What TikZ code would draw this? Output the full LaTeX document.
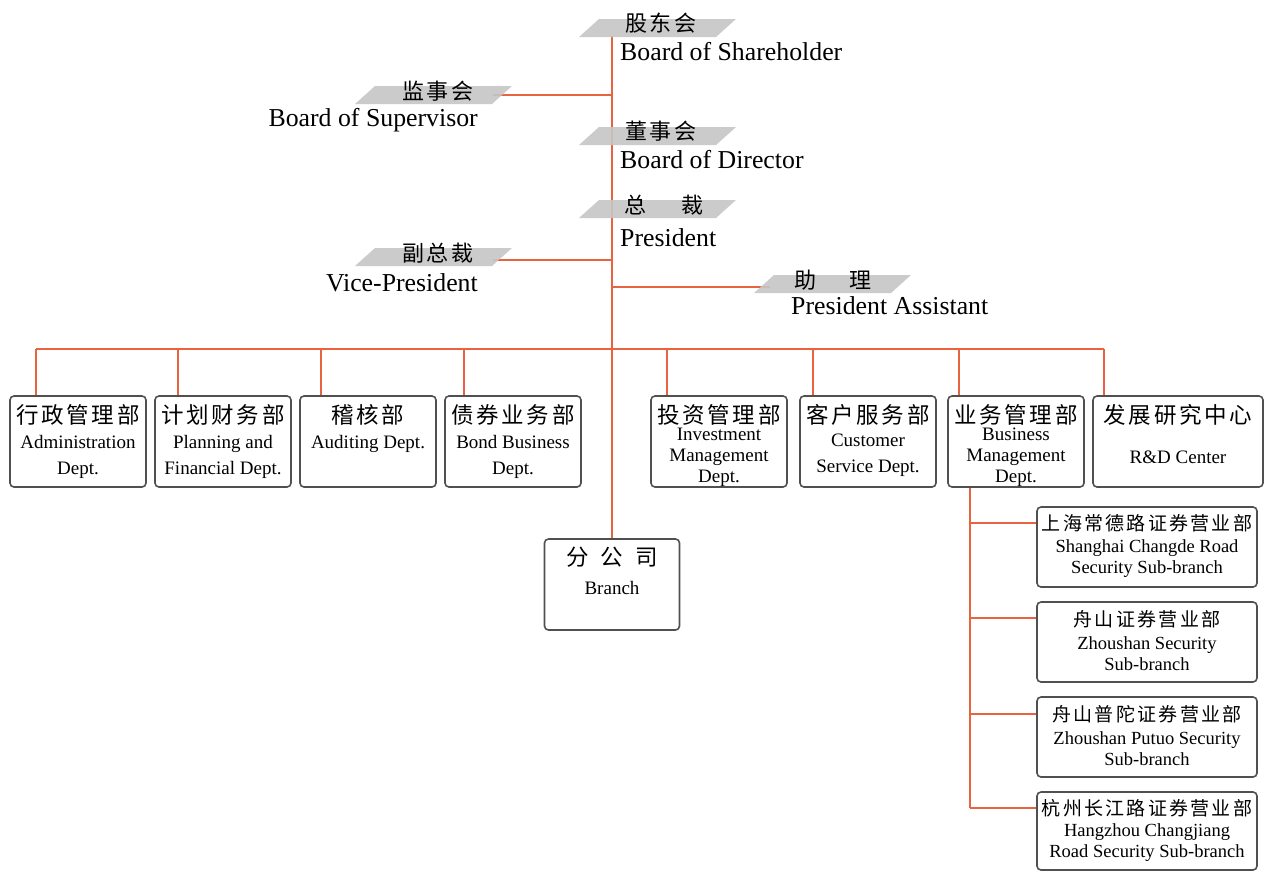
\documentclass[tikz,border=0pt]{standalone}
\usepackage{fontspec}
\setmainfont{Liberation Serif}
\newfontfamily\cjk[LetterSpace=12]{Noto Sans CJK SC}
\definecolor{ln}{RGB}{232,100,64}
\definecolor{pg}{RGB}{198,198,198}
\definecolor{bx}{RGB}{80,80,80}
\begin{document}
\begin{tikzpicture}[x=1pt,y=-1pt,
  conn/.style={draw=ln,line width=2.3pt},
  box/.style={draw=bx,line width=1.6pt,rounded corners=4pt,fill=white,inner sep=0pt},
  dept/.style={box,minimum width=136pt,minimum height=91pt},
  sub/.style={box,minimum width=220pt,minimum height=80pt},
  enl/.style={font=\fontsize{25.8}{28}\selectfont,inner sep=0pt},
  cnt/.style={font=\cjk\fontsize{22}{24}\selectfont,inner sep=0pt},
  cnd/.style={font=\cjk\fontsize{22.5}{24}\selectfont,inner sep=0pt},
  ent/.style={font=\fontsize{19}{26}\selectfont,align=center,inner sep=0pt},
  ent3/.style={font=\fontsize{19}{21}\selectfont,align=center,inner sep=0pt},
  ens/.style={font=\fontsize{18.5}{21}\selectfont,align=center,inner sep=0pt},
  cns/.style={font=\cjk\fontsize{19}{22}\selectfont,inner sep=0pt}]
\useasboundingbox[fill=white] (0,0) rectangle (1264,871);
\newcommand\mypgm[3]{\fill[pg,fill opacity=0.9] (#2-78,#3+9) -- (#2+59,#3+9) -- (#2+79,#3-9) -- (#2-58,#3-9) -- cycle; \coordinate (#1) at (#2,#3);}

% boxes
\node[dept] (adm) at (78,441.5) {};
\node[dept] (pln) at (223,441.5) {};
\node[dept] (aud) at (368,441.5) {};
\node[dept] (bnd) at (513,441.5) {};
\node[dept] (inv) at (719,441.5) {};
\node[dept] (cus) at (868,441.5) {};
\node[dept] (bsm) at (1016,441.5) {};
\node[dept,minimum width=170pt] (rnd) at (1178,441.5) {};
\node[box,minimum width=135pt,minimum height=91pt] (brc) at (612,584.5) {};
\node[sub] (s1) at (1147,547) {};
\node[sub] (s2) at (1147,642) {};
\node[sub] (s3) at (1147,737) {};
\node[sub,minimum height=78pt] (s4) at (1147,831) {};

% main line and bus
\coordinate (top) at (612,36);
\draw[conn] (top) -- (brc.north);
\coordinate (busL) at (36,349);
\coordinate (busR) at (1104,349);
\draw[conn] (busL) -- (busR);
\draw[conn] (adm.north -| busL) -- (busL);
\draw[conn] ([xshift=24pt]pln.north west) -- ++(0,-47);
\draw[conn] ([xshift=22pt]aud.north west) -- ++(0,-47);
\draw[conn] ([xshift=20pt]bnd.north west) -- ++(0,-47);
\draw[conn] ([xshift=17pt]inv.north west) -- ++(0,-47);
\draw[conn] ([xshift=14pt]cus.north west) -- ++(0,-47);
\draw[conn] ([xshift=12pt]bsm.north west) -- ++(0,-47);
\draw[conn] (rnd.north -| busR) -- (busR);

% sub branch line
\coordinate (t1) at (970,523);
\coordinate (t2) at (970,618);
\coordinate (t3) at (970,714);
\coordinate (t4) at (970,808);
\draw[conn] (bsm.south -| t1) -- (t4);
\draw[conn] (t1) -- (t1 -| s1.west);
\draw[conn] (t2) -- (t2 -| s2.west);
\draw[conn] (t3) -- (t3 -| s3.west);
\draw[conn] (t4) -- (t4 -| s4.west);

% side connectors
\coordinate (supE) at (493,95); \coordinate (supJ) at (612,95);
\draw[conn] (supE) -- (supJ);
\coordinate (vpE) at (493,260); \coordinate (vpJ) at (612,260);
\draw[conn] (vpE) -- (vpJ);
\coordinate (asJ) at (612,287); \coordinate (asE) at (770,287);
\draw[conn] (asJ) -- (asE);

% parallelograms
\mypgm{sh}{657}{28}
\mypgm{sup}{433}{95}
\mypgm{dir}{657}{136}
\mypgm{pres}{657}{209}
\mypgm{vp}{433}{257}
\mypgm{as}{832}{284}

% top labels
\node[cnt] (shc) at (661,23) {股东会};
\node[enl,anchor=west] (she) at (620,52) {Board of Shareholder};
\node[cnt] (supc) at (438,91) {监事会};
\node[enl,anchor=east] (supe) at (478,120) {Board of Supervisor};
\node[cnt] (dirc) at (661,131) {董事会};
\node[enl,anchor=west] (dire) at (620,160) {Board of Director};
\node[cnt] (presc) at (664,205) {总\hspace{36pt}裁};
\node[enl,anchor=west] (prese) at (620,238) {President};
\node[cnt] (vpc) at (438,253) {副总裁};
\node[enl,anchor=east] (vpe) at (478,283) {Vice-President};
\node[cnt] (asc) at (833,280) {助\hspace{34pt}理};
\node[enl,anchor=west] (ase) at (791,306) {President Assistant};

% department texts
\node[cnd] (admc) at (78,415) {行政管理部};
\node[ent] (adme) at (78,457) {Administration\\Dept.};
\node[cnd] (plnc) at (223,415) {计划财务部};
\node[ent] (plne) at (223,457) {Planning and\\Financial Dept.};
\node[cnd] (audc) at (368,415) {稽核部};
\node[ent] (aude) at (368,444) {Auditing Dept.};
\node[cnd] (bndc) at (513,415) {债券业务部};
\node[ent] (bnde) at (513,457) {Bond Business\\Dept.};
\node[cnd] (invc) at (719,415) {投资管理部};
\node[ent3] (inve) at (719,457) {Investment\\Management\\Dept.};
\node[cnd] (cusc) at (868,415) {客户服务部};
\node[ent] (cuse) at (868,455) {Customer\\Service Dept.};
\node[cnd] (bsmc) at (1016,415) {业务管理部};
\node[ent3] (bsme) at (1016,457) {Business\\Management\\Dept.};
\node[cnd] (rndc) at (1178,415) {发展研究中心};
\node[ent] (rnde) at (1178,457) {R\&D Center};

\node[cnd] (brcc) at (612,557) {分\hspace{12pt}公\hspace{12pt}司};
\node[ent] (brce) at (612,588) {Branch};

% sub-branch texts
\node[cns] (s1c) at (1147,523) {上海常德路证券营业部};
\node[ens] (s1e) at (1147,559) {Shanghai Changde Road\\Security Sub-branch};
\node[cns] (s2c) at (1147,619) {舟山证券营业部};
\node[ens] (s2e) at (1147,654) {Zhoushan Security\\Sub-branch};
\node[cns] (s3c) at (1147,714) {舟山普陀证券营业部};
\node[ens] (s3e) at (1147,749) {Zhoushan Putuo Security\\Sub-branch};
\node[cns] (s4c) at (1147,808) {杭州长江路证券营业部};
\node[ens] (s4e) at (1147,843) {Hangzhou Changjiang\\Road Security Sub-branch};
\end{tikzpicture}
\end{document}
